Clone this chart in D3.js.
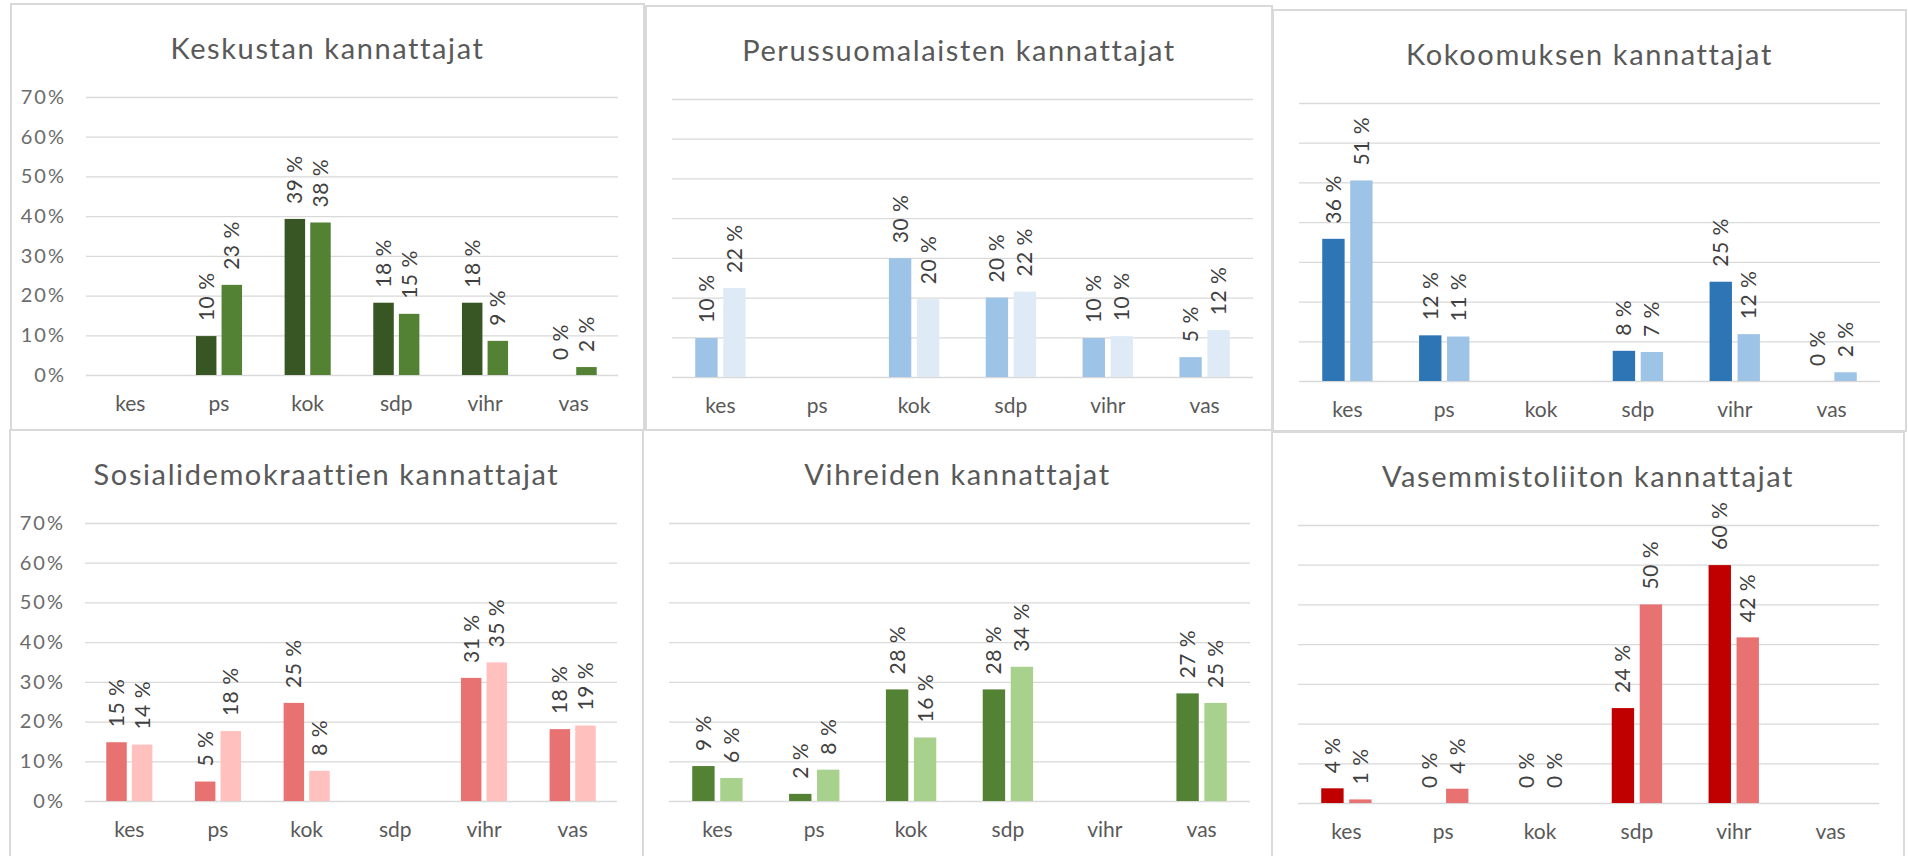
<!DOCTYPE html>
<html>
<head>
<meta charset="utf-8">
<script src="https://cdn.jsdelivr.net/npm/d3@7"></script>
<style>
  html, body { margin: 0; padding: 0; background: #fff; }
  svg { display: block; font-family: Lato, "Open Sans", sans-serif; }
</style>
</head>
<body>
<div id="chart"></div>
<script>
// --- Data ---
const categories = ["kes", "ps", "kok", "sdp", "vihr", "vas"];
const yTicks = [0, 10, 20, 30, 40, 50, 60, 70];

const titles = [
  "Keskustan kannattajat",
  "Perussuomalaisten kannattajat",
  "Kokoomuksen kannattajat",
  "Sosialidemokraattien kannattajat",
  "Vihreiden kannattajat",
  "Vasemmistoliiton kannattajat"
];

// null = puolue itse (ei palkkia eikä arvoa)
const keskusta1 = [null, 9.8, 39.3, 18.2, 18.2, 0];
const keskusta2 = [null, 22.7, 38.4, 15.4, 8.6, 2.0];
const perus1 = [9.8, null, 29.9, 20.0, 9.8, 5.0];
const perus2 = [22.4, null, 19.6, 21.5, 10.3, 11.8];
const kokoomus1 = [35.8, 11.5, null, 7.6, 25.0, 0];
const kokoomus2 = [50.5, 11.2, null, 7.3, 11.8, 2.2];
const sdp1 = [14.8, 4.9, 24.7, null, 31.0, 18.1];
const sdp2 = [14.2, 17.6, 7.6, null, 34.9, 19.0];
const vihr1 = [8.8, 1.8, 28.1, 28.1, null, 27.1];
const vihr2 = [5.8, 7.9, 16.0, 33.8, null, 24.7];
const vas1 = [3.7, 0, 0, 23.9, 59.9, null];
const vas2 = [0.9, 3.6, 0, 50.0, 41.7, null];

const panelSeries = [
  [keskusta1, keskusta2],
  [perus1, perus2],
  [kokoomus1, kokoomus2],
  [sdp1, sdp2],
  [vihr1, vihr2],
  [vas1, vas2]
];

const panelColors = [
  ["#375623", "#548235"],
  ["#9DC3E6", "#DEEBF7"],
  ["#2E75B6", "#9DC3E6"],
  ["#E87272", "#FFC0BE"],
  ["#548235", "#A9D18E"],
  ["#C00000", "#E87272"]
];

// --- Layout ---
const W = 1908, H = 856;
const panels = [
  { x: 11,   y: 4,   w: 633, h: 426, axis: true },
  { x: 646,  y: 6,   w: 626, h: 424 },
  { x: 1273, y: 10,  w: 633, h: 421 },
  { x: 10,   y: 430, w: 633, h: 430, axis: true },
  { x: 643,  y: 430, w: 629, h: 430 },
  { x: 1272, y: 432, w: 632, h: 430 }
];

const svg = d3.select("#chart").append("svg")
  .attr("width", W)
  .attr("height", H);

panels.forEach((p, i) => {
  const g = svg.append("g");

  // panel frame
  g.append("rect")
    .attr("x", p.x).attr("y", p.y)
    .attr("width", p.w).attr("height", p.h)
    .attr("fill", "#fff")
    .attr("stroke", "#d9d9d9")
    .attr("stroke-width", 2);

  const bottom = p.y + 371;
  const top = bottom - 278;
  const left = p.x + (p.axis ? 75 : 26);
  const right = p.x + 607;

  const y = d3.scaleLinear().domain([0, 70]).range([bottom, top]);
  const x0 = d3.scaleBand().domain(categories).range([left, right]).padding(0);
  const half = x0.bandwidth() * 0.26;
  const x1 = d3.scaleBand().domain([0, 1]).range([-half, half]).paddingInner(0.2);

  // gridlines
  g.append("g")
    .attr("transform", `translate(${left},0)`)
    .call(d3.axisLeft(y).tickValues(yTicks).tickSize(-(right - left)).tickFormat(""))
    .call(a => a.select(".domain").remove())
    .call(a => a.selectAll(".tick line").attr("stroke", "#d9d9d9").attr("stroke-width", 1.3));

  // y labels (only first column)
  if (p.axis) {
    g.append("g")
      .attr("transform", `translate(${p.x + 55},0)`)
      .call(d3.axisLeft(y).tickValues(yTicks).tickSize(0).tickPadding(0).tickFormat(d => d + "%"))
      .call(a => a.select(".domain").remove())
      .call(a => a.selectAll(".tick text")
        .attr("font-family", "Lato, sans-serif")
        .attr("font-size", "20px")
        .attr("letter-spacing", "2px")
        .attr("fill", "#6b6b6b"));
  }

  // category labels
  g.append("g")
    .attr("transform", `translate(0,${bottom})`)
    .call(d3.axisBottom(x0).tickSize(0).tickPadding(0))
    .call(a => a.select(".domain").remove())
    .call(a => a.selectAll(".tick text")
      .attr("dy", null)
      .attr("y", 36)
      .attr("font-family", "Lato, sans-serif")
      .attr("font-size", "21px")
      .attr("fill", "#595959"));

  // bars + labels
  const rows = [];
  panelSeries[i].forEach((arr, s) => {
    arr.forEach((v, k) => { if (v !== null) rows.push({ cat: categories[k], s, v }); });
  });

  g.selectAll(".bar")
    .data(rows)
    .join("rect")
    .attr("class", "bar")
    .attr("x", d => x0(d.cat) + x0.bandwidth() / 2 + x1(d.s))
    .attr("y", d => y(d.v))
    .attr("width", x1.bandwidth())
    .attr("height", d => y(0) - y(d.v))
    .attr("fill", d => panelColors[i][d.s]);

  g.selectAll(".lbl")
    .data(rows)
    .join("text")
    .attr("class", "lbl")
    .attr("transform", d => {
      const cx = x0(d.cat) + x0.bandwidth() / 2 + x1(d.s) + x1.bandwidth() / 2;
      return `translate(${cx},${y(d.v) - 15}) rotate(-90)`;
    })
    .attr("text-anchor", "start")
    .attr("dy", "0.36em")
    .attr("font-size", "21px")
    .attr("letter-spacing", "0.5px")
    .attr("fill", "#404040")
    .text(d => Math.round(d.v) + " %");

  // title
  g.append("text")
    .attr("x", p.x + p.w / 2)
    .attr("y", p.y + 55)
    .attr("text-anchor", "middle")
    .attr("font-size", "29px")
    .attr("letter-spacing", "1.6px")
    .attr("fill", "#595959")
    .text(titles[i]);
});
</script>
</body>
</html>
